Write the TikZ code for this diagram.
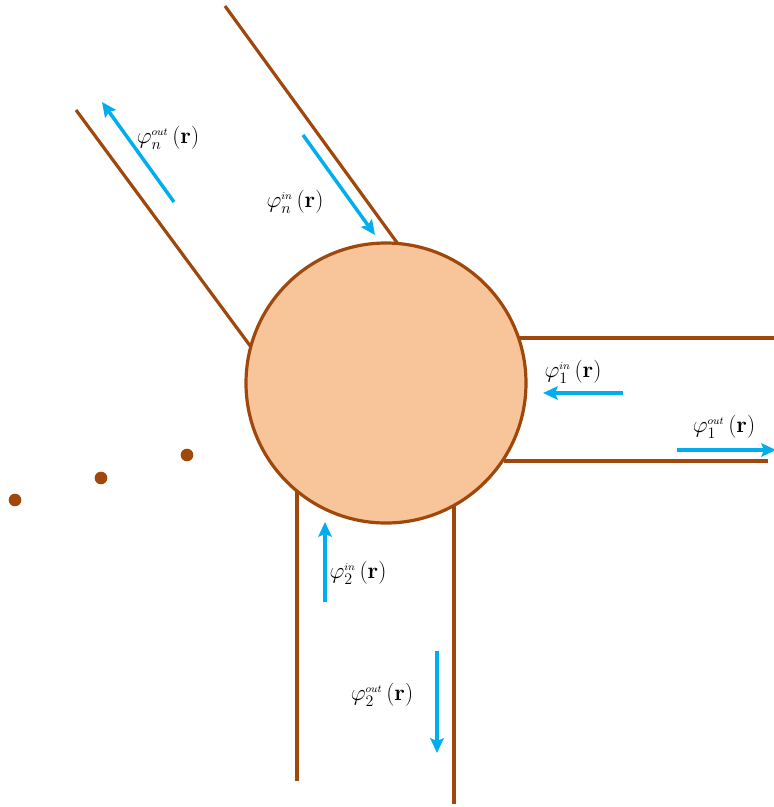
\documentclass[tikz,border=0pt]{standalone}
\usetikzlibrary{arrows.meta}
\definecolor{wallc}{HTML}{A0480C}
\definecolor{fillc}{HTML}{F8C499}
\definecolor{arrc}{HTML}{00AEEF}
\newcommand{\flab}[2]{$\varphi_{#1}^{\scriptscriptstyle #2}\,\bigl(\mathbf{r}\bigr)$}
\begin{document}
\begin{tikzpicture}[x=0.75pt,y=-0.75pt,
  wall/.style={draw=wallc,line width=2.4pt},
  flow/.style={draw=arrc,line width=2.6pt,-{Stealth[length=11pt,width=10pt,inset=2pt]}},
  lab/.style={inner sep=0pt,font=\fontsize{17}{19}\selectfont},
  dotc/.style={circle,fill=wallc,inner sep=0pt,minimum size=9.5pt}]
\useasboundingbox (0,0) rectangle (774,807);
% channels
\coordinate (a1) at (76,110); \coordinate (a2) at (251,347);
\coordinate (b1) at (225,6); \coordinate (b2) at (398,244);
\draw[wall] (a1) -- (a2);
\draw[wall] (b1) -- (b2);
\coordinate (c1) at (518,338); \coordinate (c2) at (774,338);
\coordinate (d1) at (504,461); \coordinate (d2) at (768,461);
\draw[wall] (c1) -- (c2);
\draw[wall] (d1) -- (d2);
\coordinate (e1) at (297,490); \coordinate (e2) at (297,781);
\coordinate (f1) at (454,505); \coordinate (f2) at (454,804);
\draw[wall] (e1) -- (e2);
\draw[wall] (f1) -- (f2);
% junction
\node[circle,draw=wallc,fill=fillc,line width=2.4pt,minimum size=210pt,inner sep=0pt] (J) at (386,383) {};
% dots
\node[dotc] (p1) at (15,500) {};
\node[dotc] (p2) at (101,478) {};
\node[dotc] (p3) at (187,455) {};
% flow arrows
\coordinate (no1) at (174,202); \coordinate (no2) at (102,102);
\coordinate (ni1) at (303,135); \coordinate (ni2) at (375,235);
\coordinate (ii1) at (623,393); \coordinate (ii2) at (543,393);
\coordinate (io1) at (677,450); \coordinate (io2) at (776,450);
\coordinate (ti1) at (325,602); \coordinate (ti2) at (325,522);
\coordinate (to1) at (437,651); \coordinate (to2) at (437,753);
\draw[flow] (no1) -- (no2);
\draw[flow] (ni1) -- (ni2);
\draw[flow] (ii1) -- (ii2);
\draw[flow] (io1) -- (io2);
\draw[flow] (ti1) -- (ti2);
\draw[flow] (to1) -- (to2);
% labels
\node[lab] (lno) at (168,138) {\flab{n}{out}};
\node[lab] (lni) at (295,202) {\flab{n}{in}};
\node[lab] (lii) at (573,372) {\flab{1}{in}};
\node[lab] (lio) at (724,427) {\flab{1}{out}};
\node[lab] (lti) at (358,573) {\flab{2}{in}};
\node[lab] (lto) at (382,695) {\flab{2}{out}};
\end{tikzpicture}
\end{document}
